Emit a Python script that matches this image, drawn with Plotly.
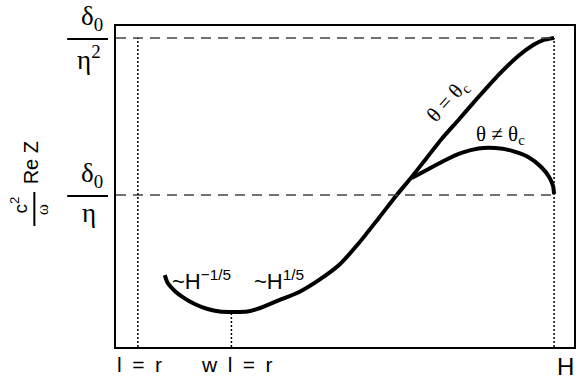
import plotly.graph_objects as go

# ---- data (x: arbitrary units 0..100, y: in units of delta0/eta) ----
main_x = [10.65, 11.30, 12.83, 14.57, 17.17, 20.00, 22.61, 25.87, 28.70, 30.87, 33.04,
          36.30, 40.00, 44.35, 48.70, 53.04, 57.39, 61.30, 64.57, 67.83, 71.09, 74.78,
          79.13, 83.48, 87.83, 91.09, 93.26, 95.65]
main_y = [0.490, 0.439, 0.389, 0.350, 0.306, 0.274, 0.258, 0.255, 0.258, 0.274, 0.299,
          0.338, 0.382, 0.459, 0.554, 0.694, 0.854, 1.000, 1.115, 1.236, 1.357, 1.478,
          1.624, 1.764, 1.885, 1.955, 1.987, 2.000]
branch_x = [64.57, 68.26, 71.96, 75.43, 79.13, 82.83, 86.30, 90.00, 92.83, 94.57, 95.43, 95.65]
branch_y = [1.108, 1.166, 1.223, 1.268, 1.296, 1.299, 1.283, 1.242, 1.178, 1.115, 1.057, 1.006]

level_vals = [1.0, 2.0]                 # delta0/eta , delta0/eta^2
level_num = ["δ<sub>0</sub>", "δ<sub>0</sub>"]
level_den = ["η", "η<sup>2</sup>"]
x_marks = [4.78, 25.2, 95.65]           # l=r, wl=r, H
x_labels = ["l\u2002=\u2002r", "w\u2002l\u2002=\u2002r", "H"]
wl_min_y = 0.255

X_RANGE = [0, 100]
Y_RANGE = [0.0318, 2.0764]

# plot-area pixel geometry
L, R, T, B = 116, 5, 26, 32
W, Hh = 581, 379
PW, PH = W - L - R, Hh - T - B


def px(p):
    return (p - L) / PW


def py(p):
    return (Hh - B - p) / PH


SERIF = "Liberation Serif"
SANS = "Liberation Sans"

fig = go.Figure()
fig.add_trace(go.Scatter(x=main_x, y=main_y, mode="lines",
                         line=dict(color="black", width=4, shape="spline", smoothing=0.6),
                         hoverinfo="skip", showlegend=False))
fig.add_trace(go.Scatter(x=branch_x, y=branch_y, mode="lines",
                         line=dict(color="black", width=4, shape="spline", smoothing=0.6),
                         hoverinfo="skip", showlegend=False))

shapes = []
# horizontal dashed reference levels
for v in level_vals:
    shapes.append(dict(type="line", xref="x", yref="y", x0=X_RANGE[0], x1=x_marks[2], y0=v, y1=v,
                       line=dict(color="#444444", width=1.5, dash="10px,7px")))
# vertical dotted lines
shapes.append(dict(type="line", xref="x", yref="y", x0=x_marks[0], x1=x_marks[0], y0=Y_RANGE[0], y1=level_vals[1],
                   line=dict(color="black", width=1.5, dash="2px,2px")))
shapes.append(dict(type="line", xref="x", yref="y", x0=x_marks[1], x1=x_marks[1], y0=Y_RANGE[0], y1=wl_min_y,
                   line=dict(color="black", width=1.5, dash="2px,2px")))
shapes.append(dict(type="line", xref="x", yref="y", x0=x_marks[2], x1=x_marks[2], y0=Y_RANGE[0], y1=level_vals[1],
                   line=dict(color="black", width=1.5, dash="2px,2px")))

annotations = []
# y-level fraction labels
for v, num, den in zip(level_vals, level_num, level_den):
    lp = 195 - (v - 1.0) * 157  # pixel row of the level
    shapes.append(dict(type="line", xref="paper", yref="paper", x0=px(67), x1=px(108),
                       y0=py(lp + 1), y1=py(lp + 1), line=dict(color="black", width=2)))
    annotations.append(dict(xref="paper", yref="paper", x=px(92), y=py(lp - 1), text=num,
                            showarrow=False, xanchor="center", yanchor="bottom",
                            font=dict(family=SERIF, size=27, color="black")))
    annotations.append(dict(xref="paper", yref="paper", x=px(89), y=py(lp + 1), text=den,
                            showarrow=False, xanchor="center", yanchor="top",
                            font=dict(family=SERIF, size=27, color="black")))

# y-axis title  (c^2/omega Re Z), rotated
annotations.append(dict(xref="paper", yref="paper", x=px(31), y=py(163), text="Re Z", textangle=270,
                        showarrow=False, xanchor="center", yanchor="middle",
                        font=dict(family=SANS, size=20, color="black")))
annotations.append(dict(xref="paper", yref="paper", x=px(19), y=py(205), text="c<sup>2</sup>", textangle=270,
                        showarrow=False, xanchor="center", yanchor="middle",
                        font=dict(family=SANS, size=19, color="black")))
annotations.append(dict(xref="paper", yref="paper", x=px(42), y=py(210), text="ω", textangle=270,
                        showarrow=False, xanchor="center", yanchor="middle",
                        font=dict(family=SERIF, size=17, color="black")))
shapes.append(dict(type="line", xref="paper", yref="paper", x0=px(34), x1=px(34), y0=py(226), y1=py(192),
                   line=dict(color="black", width=2)))

# x labels
x_label_px = [140, 238, 578]
x_label_anchor = ["center", "center", "right"]
x_label_sz = [21, 21, 24]
for xl, lab, sz, an in zip(x_label_px, x_labels, x_label_sz, x_label_anchor):
    annotations.append(dict(xref="paper", yref="paper", x=px(xl), y=py(351), text=lab,
                            showarrow=False, xanchor=an, yanchor="top",
                            font=dict(family=SANS, size=sz, color="black")))

# curve annotations
annotations.append(dict(xref="x", yref="y", x=72.4, y=1.60, text="θ = θ<sub>c</sub>", textangle=-48,
                        showarrow=False, font=dict(family=SERIF, size=21, color="black")))
annotations.append(dict(xref="x", yref="y", x=83.9, y=1.38, text="θ ≠ θ<sub>c</sub>",
                        showarrow=False, font=dict(family=SERIF, size=21, color="black")))
annotations.append(dict(xref="x", yref="y", x=18.6, y=0.46, text="~H<sup>−1/5</sup>",
                        showarrow=False, font=dict(family=SANS, size=22, color="black")))
annotations.append(dict(xref="x", yref="y", x=35.6, y=0.46, text="~H<sup>1/5</sup>",
                        showarrow=False, font=dict(family=SANS, size=22, color="black")))

fig.update_layout(
    width=W, height=Hh,
    margin=dict(l=L, r=R, t=T, b=B, pad=0),
    paper_bgcolor="white", plot_bgcolor="white",
    xaxis=dict(range=X_RANGE, showgrid=False, zeroline=False, showticklabels=False, ticks="",
               showline=True, mirror=True, linecolor="black", linewidth=2, fixedrange=True),
    yaxis=dict(range=Y_RANGE, showgrid=False, zeroline=False, showticklabels=False, ticks="",
               showline=True, mirror=True, linecolor="black", linewidth=2, fixedrange=True),
    shapes=shapes, annotations=annotations, showlegend=False,
)
fig.write_html("out.html", config={"displayModeBar": False})
